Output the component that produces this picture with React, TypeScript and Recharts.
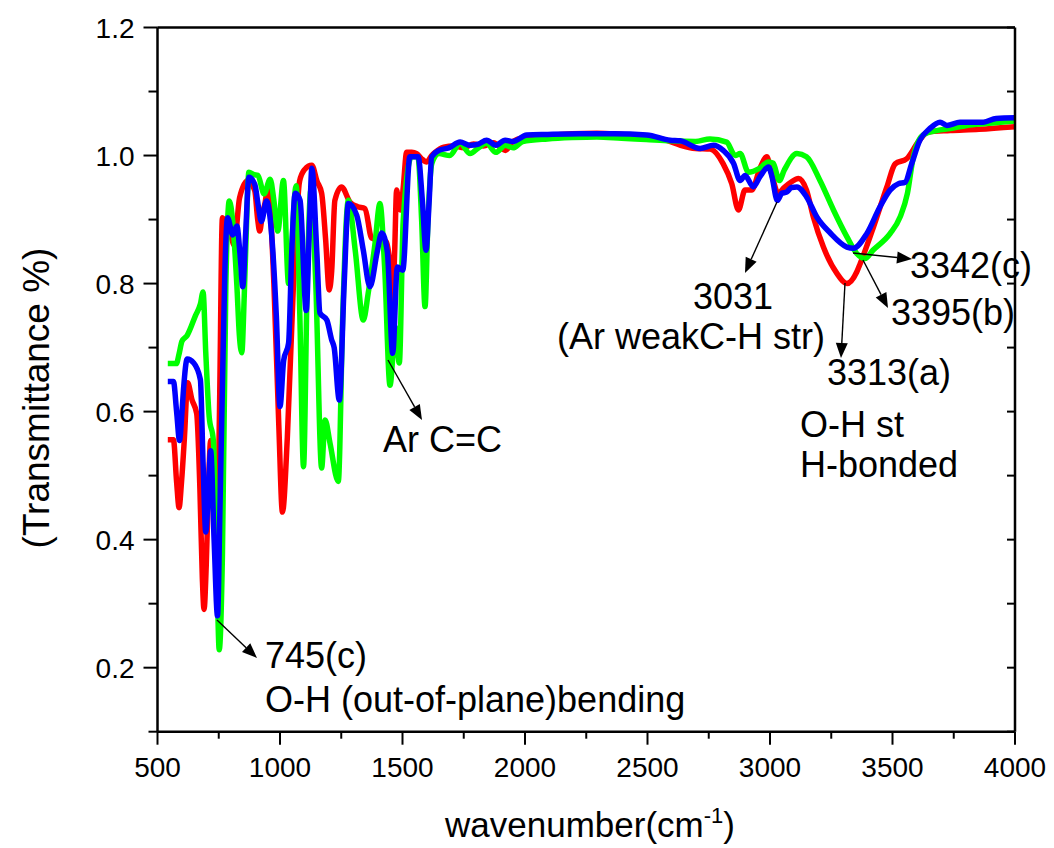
import { LineChart, Line, XAxis, YAxis } from "recharts";

// IR spectra, transmittance vs wavenumber (cm-1)
const RED_WN = [
  542, 565, 578, 588, 598, 610, 623, 641, 660, 673, 683, 690, 699, 708, 717, 728, 741, 753, 765, 783,
  799, 813, 835, 869, 897, 909, 917, 929, 938, 951, 975, 995, 1010, 1030, 1055, 1080, 1100, 1130, 1151,
  1170, 1186, 1201, 1211, 1224, 1251, 1286, 1317, 1347, 1374, 1407, 1435, 1449, 1460, 1468, 1476, 1486,
  1493, 1503, 1517, 1538, 1558, 1578, 1599, 1619, 1633, 1669, 1709, 1750, 1790, 1830, 1871, 1921, 1951,
  1991, 2092, 2192, 2293, 2394, 2495, 2576, 2635, 2696, 2756, 2809, 2844, 2871, 2898, 2925, 2959, 2987,
  3003, 3034, 3058, 3088, 3116, 3149, 3177, 3218, 3273, 3314, 3354, 3368, 3422, 3477, 3511, 3558, 3605,
  3646, 3735, 3853, 4000,
];
const RED_T = [
  0.556, 0.556, 0.49, 0.45, 0.49, 0.56, 0.645, 0.618, 0.597, 0.48, 0.34, 0.291, 0.36, 0.48, 0.555, 0.5,
  0.35, 0.6, 0.903, 0.89, 0.876, 0.86, 0.934, 0.961, 0.945, 0.9, 0.882, 0.91, 0.924, 0.95, 0.8, 0.58,
  0.443, 0.56, 0.8, 0.96, 0.978, 0.985, 0.96, 0.941, 0.87, 0.79, 0.82, 0.93, 0.951, 0.927, 0.92, 0.917,
  0.871, 0.868, 0.865, 0.83, 0.774, 0.85, 0.946, 0.92, 0.915, 0.95, 1.005, 1.005, 1.003, 0.995, 0.99,
  1.0, 1.005, 1.013, 1.015, 1.012, 1.018, 1.015, 1.02, 1.008, 1.022, 1.028, 1.031, 1.034, 1.035, 1.033,
  1.03, 1.024, 1.016, 1.011, 1.01, 0.987, 0.956, 0.915, 0.946, 0.946, 0.98, 0.998, 0.977, 0.941, 0.95,
  0.959, 0.964, 0.946, 0.904, 0.857, 0.816, 0.8, 0.818, 0.831, 0.888, 0.951, 0.987, 0.995, 1.021, 1.037,
  1.039, 1.041, 1.045,
];

const GREEN_WN = [
  542, 577, 588, 600, 621, 655, 675, 686, 697, 711, 728, 740, 752, 765, 779, 793, 807, 824, 834, 844,
  854, 862, 873, 894, 910, 935, 960, 975, 991, 1014, 1035, 1066, 1081, 1096, 1111, 1126, 1146, 1170,
  1184, 1204, 1238, 1256, 1279, 1307, 1340, 1360, 1387, 1408, 1427, 1449, 1463, 1470, 1487, 1503, 1537,
  1563, 1578, 1592, 1604, 1620, 1649, 1693, 1735, 1776, 1810, 1843, 1881, 1919, 1951, 1991, 2092, 2192,
  2293, 2394, 2495, 2595, 2696, 2755, 2823, 2858, 2878, 2912, 2957, 2994, 3013, 3038, 3058, 3110, 3149,
  3204, 3259, 3314, 3354, 3388, 3420, 3490, 3531, 3561, 3585, 3625, 3681, 3735, 3803, 3883, 4000,
];
const GREEN_T = [
  0.675, 0.675, 0.69, 0.71, 0.719, 0.75, 0.768, 0.787, 0.692, 0.592, 0.555, 0.4, 0.228, 0.376, 0.797,
  0.929, 0.897, 0.797, 0.72, 0.692, 0.78, 0.876, 0.974, 0.97, 0.969, 0.94, 0.963, 0.93, 0.882, 0.961,
  0.8, 0.953, 0.75, 0.514, 0.8, 0.946, 0.8, 0.512, 0.587, 0.551, 0.491, 0.75, 0.93, 0.852, 0.743, 0.785,
  0.86, 0.925, 0.826, 0.641, 0.7, 0.732, 0.676, 0.899, 0.998, 0.998, 0.9, 0.764, 0.9, 0.988, 1.003, 1.0,
  1.019, 1.003, 1.012, 1.019, 1.005, 1.016, 1.012, 1.022, 1.026, 1.028, 1.029, 1.027, 1.025, 1.023,
  1.022, 1.026, 1.021, 1.0, 1.003, 0.974, 0.98, 0.99, 0.988, 0.961, 0.977, 1.003, 0.998, 0.961, 0.915,
  0.873, 0.847, 0.839, 0.852, 0.878, 0.904, 0.941, 0.998, 1.032, 1.039, 1.042, 1.047, 1.05, 1.054,
];

const BLUE_WN = [
  542, 565, 578, 590, 600, 607, 621, 648, 675, 686, 697, 707, 717, 731, 745, 755, 765, 775, 786, 807,
  824, 838, 848, 860, 873, 897, 912, 924, 945, 966, 985, 1000, 1015, 1035, 1048, 1062, 1082, 1107, 1121,
  1130, 1150, 1163, 1191, 1211, 1221, 1242, 1262, 1279, 1313, 1340, 1367, 1397, 1415, 1438, 1460, 1479,
  1501, 1530, 1564, 1581, 1596, 1609, 1619, 1649, 1689, 1735, 1776, 1810, 1843, 1881, 1919, 1951, 2007,
  2092, 2225, 2361, 2497, 2592, 2633, 2715, 2769, 2809, 2851, 2878, 2898, 2932, 2959, 2994, 3008, 3030,
  3048, 3068, 3088, 3110, 3150, 3191, 3246, 3314, 3340, 3395, 3449, 3490, 3524, 3551, 3578, 3612, 3652,
  3694, 3722, 3775, 3871, 3923, 4000,
];
const BLUE_T = [
  0.647, 0.647, 0.6, 0.555, 0.6, 0.639, 0.682, 0.676, 0.65, 0.52, 0.412, 0.47, 0.539, 0.4, 0.281, 0.45,
  0.639, 0.82, 0.903, 0.876, 0.89, 0.84, 0.795, 0.88, 0.966, 0.955, 0.92, 0.897, 0.929, 0.876, 0.75,
  0.608, 0.68, 0.707, 0.85, 0.941, 0.93, 0.758, 0.9, 0.98, 0.852, 0.754, 0.743, 0.712, 0.7, 0.618, 0.8,
  0.925, 0.907, 0.852, 0.795, 0.85, 0.879, 0.85, 0.691, 0.826, 0.821, 0.998, 0.998, 0.93, 0.852, 0.93,
  0.998, 1.008, 1.012, 1.021, 1.016, 1.018, 1.024, 1.016, 1.024, 1.022, 1.032, 1.033, 1.034, 1.034,
  1.032, 1.024, 1.023, 1.011, 1.016, 1.008, 0.988, 0.961, 0.969, 0.951, 0.967, 0.982, 0.967, 0.93, 0.941,
  0.943, 0.95, 0.951, 0.935, 0.904, 0.879, 0.857, 0.855, 0.878, 0.92, 0.946, 0.956, 0.958, 0.987, 1.024,
  1.042, 1.052, 1.047, 1.052, 1.052, 1.058, 1.059,
];

const X_TICKS = [500, 750, 1000, 1250, 1500, 1750, 2000, 2250, 2500, 2750, 3000, 3250, 3500, 3750, 4000];
const Y_TICKS = [0.1, 0.2, 0.3, 0.4, 0.5, 0.6, 0.7, 0.8, 0.9, 1.0, 1.1, 1.2];

const toRows = (wn: number[], t: number[]) => wn.map((w, i) => ({ wn: w, t: t[i] }));
const red = toRows(RED_WN, RED_T);
const green = toRows(GREEN_WN, GREEN_T);
const blue = toRows(BLUE_WN, BLUE_T);

const FONT = "'Liberation Sans', Arial, Helvetica, sans-serif";

const isMajorY = (v: number) => Math.round(v * 10) % 2 === 0;

const BottomTick = (props: any) => {
  const { x, y, payload } = props;
  const major = payload.value % 500 === 0;
  return (
    <g>
      <line x1={x} y1={y} x2={x} y2={y + (major ? 13 : 7)} stroke="#000" strokeWidth={2} />
      {major && (
        <text x={x} y={y + 45} textAnchor="middle" fontSize={28} fontFamily={FONT} fill="#000">
          {payload.value}
        </text>
      )}
    </g>
  );
};

const TopTick = (props: any) => {
  const { x, y } = props;
  return <line x1={x} y1={y} x2={x} y2={y + 6} stroke="#000" strokeWidth={2} />;
};

const LeftTick = (props: any) => {
  const { x, y, payload } = props;
  const major = isMajorY(payload.value);
  return (
    <g>
      <line x1={x} y1={y} x2={x - (major ? 14 : 9)} y2={y} stroke="#000" strokeWidth={2} />
      {major && (
        <text x={x - 23} y={y + 10} textAnchor="end" fontSize={28} fontFamily={FONT} fill="#000">
          {payload.value.toFixed(1)}
        </text>
      )}
    </g>
  );
};

const RightTick = (props: any) => {
  const { x, y } = props;
  return <line x1={x} y1={y} x2={x - 8} y2={y} stroke="#000" strokeWidth={2} />;
};

// annotation arrows and texts, in page pixels
const arrows = [
  [217, 620, 257, 658],
  [388, 360, 422, 420],
  [777, 202, 745, 273],
  [845, 283, 841, 358],
  [863, 260, 888, 308],
  [853, 253, 912, 259],
];
const notes: [string, number, number][] = [
  ["745(c)", 265, 668],
  ["O-H (out-of-plane)bending", 265, 712],
  ["Ar C=C", 383, 452],
  ["3031", 693, 309],
  ["(Ar weakC-H str)", 557, 349],
  ["3313(a)", 827, 385],
  ["3395(b)", 891, 325],
  ["3342(c)", 910, 278],
  ["O-H st", 800, 437],
  ["H-bonded", 800, 477],
];

function Arrow({ a }: { a: number[] }) {
  const [x1, y1, x2, y2] = a;
  const ang = Math.atan2(y2 - y1, x2 - x1);
  const L = 15;
  const W = 6;
  const bx = x2 - L * Math.cos(ang);
  const by = y2 - L * Math.sin(ang);
  const px = -Math.sin(ang) * W;
  const py = Math.cos(ang) * W;
  return (
    <g>
      <line x1={x1} y1={y1} x2={bx} y2={by} stroke="#000" strokeWidth={1.4} />
      <polygon points={`${x2},${y2} ${bx + px},${by + py} ${bx - px},${by - py}`} fill="#000" />
    </g>
  );
}

export default function App() {
  return (
    <div style={{ position: "relative", width: 1046, height: 840 }}>
      <LineChart width={1046} height={840} margin={{ top: 14.5, right: 29, bottom: 56.3, left: 69.5 }}>
        <XAxis
          dataKey="wn"
          type="number"
          domain={[500, 4000]}
          ticks={X_TICKS}
          interval={0}
          allowDataOverflow
          tickSize={0}
          tickMargin={0}
          tickLine={false}
          axisLine={{ stroke: "#000", strokeWidth: 2.5 }}
          tick={<BottomTick />}
          height={60}
        />
        <XAxis
          xAxisId="top"
          orientation="top"
          type="number"
          domain={[500, 4000]}
          ticks={X_TICKS}
          interval={0}
          allowDataOverflow
          tickSize={0}
          tickMargin={0}
          tickLine={false}
          axisLine={{ stroke: "#000", strokeWidth: 2.5 }}
          tick={<TopTick />}
          height={5}
        />
        <YAxis
          type="number"
          domain={[0.1, 1.2]}
          ticks={Y_TICKS}
          interval={0}
          allowDataOverflow
          tickSize={0}
          tickMargin={0}
          tickLine={false}
          axisLine={{ stroke: "#000", strokeWidth: 2.5 }}
          tick={<LeftTick />}
          width={80}
        />
        <YAxis
          yAxisId="right"
          orientation="right"
          type="number"
          domain={[0.1, 1.2]}
          ticks={Y_TICKS}
          interval={0}
          allowDataOverflow
          tickSize={0}
          tickMargin={0}
          tickLine={false}
          axisLine={{ stroke: "#000", strokeWidth: 2.5 }}
          tick={<RightTick />}
          width={10}
        />
        <Line data={red} dataKey="t" type="monotone" stroke="#ff0000" strokeWidth={5.5} dot={false} isAnimationActive={false} />
        <Line data={green} dataKey="t" type="monotone" stroke="#00ff00" strokeWidth={5.5} dot={false} isAnimationActive={false} />
        <Line data={blue} dataKey="t" type="monotone" stroke="#0000ff" strokeWidth={5.5} dot={false} isAnimationActive={false} />
      </LineChart>
      <svg
        width={1046}
        height={840}
        style={{ position: "absolute", left: 0, top: 0, pointerEvents: "none", overflow: "visible" }}
      >
        <g transform="translate(-8,-8)" fontFamily={FONT} fill="#000">
          {arrows.map((a, i) => (
            <Arrow key={i} a={a} />
          ))}
          {notes.map(([s, x, y]) => (
            <text key={s} x={x} y={y} fontSize={36}>
              {s}
            </text>
          ))}
          <text transform="translate(49,398) rotate(-90)" textAnchor="middle" fontSize={37}>
            (Transmittance %)
          </text>
          <text x={590} y={837} textAnchor="middle" fontSize={35}>
            wavenumber(cm<tspan fontSize={22} dy={-14}>-1</tspan>
            <tspan dy={14}>)</tspan>
          </text>
        </g>
      </svg>
    </div>
  );
}
